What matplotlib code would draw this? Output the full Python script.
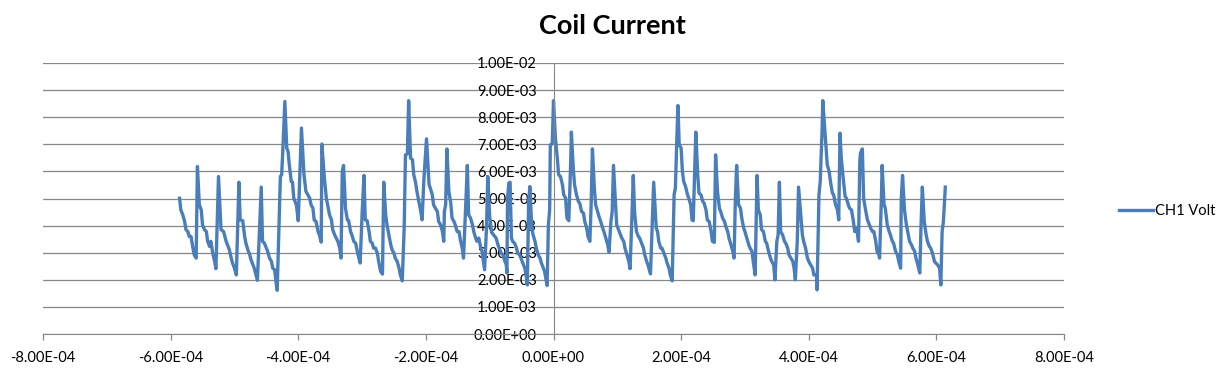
#!/usr/bin/env python3
"""
Coil Current - Excel style line chart of CH1 Volt vs time
"""

import matplotlib
matplotlib.use('Agg')
import matplotlib.pyplot as plt
from matplotlib.ticker import FuncFormatter

plt.rcParams['font.family'] = ['Lato', 'DejaVu Sans']

# time in units of 1e-4 s
t_e4 = [
    -5.86, -5.84, -5.81, -5.78, -5.76, -5.73, -5.71, -5.68, -5.65, -5.63, -5.60,
    -5.58, -5.55, -5.52, -5.50, -5.47, -5.44, -5.42, -5.39, -5.37, -5.34, -5.31, -5.29,
    -5.25, -5.21, -5.17, -5.13, -5.10, -5.08, -5.05, -5.03, -5.00, -4.97,
    -4.93, -4.91, -4.87, -4.84, -4.82, -4.79, -4.76, -4.74, -4.71, -4.69, -4.64,
    -4.58, -4.56, -4.53, -4.50, -4.48, -4.45, -4.42, -4.40, -4.37, -4.35, -4.33,
    -4.28, -4.26, -4.24, -4.21, -4.18, -4.16, -4.14, -4.11, -4.09, -4.07, -4.03, -4.00,
    -3.95, -3.91, -3.88, -3.85, -3.82, -3.80, -3.77, -3.75, -3.72, -3.69, -3.67, -3.64,
    -3.63, -3.59, -3.56, -3.54, -3.51, -3.48, -3.46, -3.43, -3.38, -3.35, -3.33,
    -3.31, -3.29, -3.26, -3.23, -3.21, -3.18, -3.16, -3.13, -3.10, -3.08, -3.05, -3.03,
    -3.00, -2.97, -2.95, -2.92, -2.89, -2.87, -2.84, -2.82, -2.79, -2.76, -2.74, -2.71, -2.68,
    -2.66, -2.63, -2.61, -2.58, -2.55, -2.53, -2.50, -2.48, -2.45, -2.42, -2.40, -2.37,
    -2.34, -2.32, -2.29, -2.27, -2.24, -2.21, -2.19, -2.16, -2.14, -2.11, -2.08, -2.06,
    -2.03, -1.99, -1.95, -1.93, -1.90, -1.88, -1.85, -1.82, -1.80, -1.77, -1.74, -1.72,
    -1.71, -1.69, -1.67, -1.64, -1.61, -1.59, -1.56, -1.54, -1.51, -1.48, -1.46, -1.43, -1.41,
    -1.35, -1.33, -1.30, -1.27, -1.25, -1.22, -1.20, -1.17, -1.14, -1.12, -1.08,
    -1.05, -1.03, -1.00, -0.97, -0.92, -0.90, -0.87, -0.85, -0.82, -0.79, -0.77, -0.74, -0.73,
    -0.72, -0.70, -0.68, -0.66, -0.64, -0.61, -0.58, -0.56, -0.53, -0.51, -0.48, -0.45, -0.43, -0.41,
    -0.39, -0.37, -0.34, -0.32, -0.29, -0.27, -0.24, -0.21, -0.19, -0.16, -0.14, -0.10,
    -0.08, -0.06, -0.05, -0.02, 0.00, 0.03, 0.06, 0.08, 0.11, 0.14, 0.16, 0.19, 0.21, 0.24,
    0.27, 0.28, 0.31, 0.33, 0.36, 0.39, 0.41, 0.44, 0.47, 0.49, 0.52, 0.54, 0.57,
    0.59, 0.61, 0.64, 0.66, 0.69, 0.72, 0.74, 0.77, 0.79, 0.82, 0.85, 0.87,
    0.90, 0.92, 0.94, 0.97, 0.99, 1.02, 1.05, 1.07, 1.10, 1.12, 1.15, 1.18, 1.20,
    1.23, 1.25, 1.27, 1.30, 1.33, 1.35, 1.38, 1.41, 1.43, 1.46, 1.48, 1.52,
    1.57, 1.61, 1.63, 1.65, 1.68, 1.70, 1.73, 1.76, 1.78, 1.81, 1.83, 1.86,
    1.89, 1.91, 1.93, 1.95, 1.97, 2.00, 2.02, 2.04, 2.07, 2.10, 2.12, 2.15, 2.17, 2.19,
    2.21, 2.23, 2.26, 2.28, 2.31, 2.34, 2.36, 2.39, 2.41, 2.44, 2.47, 2.49, 2.52,
    2.53, 2.54, 2.57, 2.60, 2.62, 2.65, 2.68, 2.70, 2.73, 2.75, 2.78, 2.81, 2.83,
    2.85, 2.87, 2.90, 2.93, 2.95, 2.98, 3.00, 3.03, 3.06, 3.08, 3.11, 3.13, 3.16,
    3.19, 3.21, 3.24, 3.26, 3.29, 3.32, 3.34, 3.37, 3.40, 3.42, 3.45, 3.47,
    3.50, 3.52, 3.54, 3.56, 3.59, 3.62, 3.64, 3.67, 3.69, 3.72, 3.75, 3.77, 3.79,
    3.82, 3.84, 3.87, 3.90, 3.92, 3.95, 3.98, 4.00, 4.03, 4.06, 4.08, 4.12, 4.13,
    4.16, 4.18, 4.21, 4.22, 4.25, 4.27, 4.29, 4.32, 4.34, 4.37, 4.39, 4.42, 4.45, 4.47,
    4.49, 4.51, 4.54, 4.57, 4.59, 4.62, 4.64, 4.67, 4.70, 4.72, 4.75, 4.78,
    4.80, 4.81, 4.84, 4.86, 4.89, 4.92, 4.94, 4.97, 5.00, 5.02, 5.05, 5.07, 5.10, 5.11,
    5.14, 5.15, 5.18, 5.20, 5.23, 5.26, 5.28, 5.31, 5.33, 5.36, 5.39, 5.41, 5.44,
    5.45, 5.47, 5.50, 5.53, 5.55, 5.58, 5.61, 5.63, 5.66, 5.68, 5.71, 5.74,
    5.76, 5.78, 5.81, 5.84, 5.86, 5.89, 5.91, 5.94, 5.97, 5.99, 6.02, 6.05, 6.07,
    6.09, 6.11, 6.14,
]

# CH1 Volt in units of 1e-3
volt_e3 = [
    5.01, 4.58, 4.40, 4.15, 3.85, 3.78, 3.60, 3.60, 3.17, 2.92, 2.80,
    6.18, 4.77, 4.58, 4.03, 3.85, 3.78, 3.42, 3.23, 3.42, 2.98, 2.68, 2.41,
    5.81, 3.85, 3.78, 3.42, 3.23, 3.11, 2.80, 2.62, 2.43, 2.18,
    5.60, 4.21, 4.18, 3.60, 3.35, 3.11, 2.92, 2.74, 2.55, 2.43, 1.98,
    5.42, 3.42, 3.35, 3.17, 3.05, 2.80, 2.68, 2.43, 2.37, 1.94, 1.61,
    5.81, 5.88, 6.86, 8.58, 6.86, 6.74, 6.24, 5.63, 5.60, 5.01, 4.77, 4.18,
    7.60, 5.88, 5.26, 5.14, 5.01, 4.77, 4.64, 4.21, 4.15, 3.78, 3.66, 3.39,
    7.01, 5.75, 5.01, 4.77, 4.40, 4.21, 3.85, 3.66, 3.42, 3.17, 2.80,
    6.00, 6.22, 4.64, 4.21, 4.18, 3.78, 3.66, 3.42, 3.35, 3.11, 2.80, 2.62,
    4.40, 5.85, 4.21, 4.18, 3.78, 3.42, 3.35, 3.17, 3.17, 2.98, 2.68, 2.31, 2.21,
    5.60, 4.40, 4.03, 3.66, 3.29, 3.11, 2.98, 2.80, 2.68, 2.43, 2.18, 1.96,
    3.91, 6.61, 6.64, 8.61, 6.49, 6.43, 5.88, 5.57, 5.26, 4.89, 4.52, 4.21,
    5.75, 7.20, 5.51, 5.38, 5.14, 4.77, 4.64, 4.52, 4.15, 4.03, 3.78, 3.42,
    4.52, 4.77, 6.83, 5.26, 4.83, 4.28, 4.15, 4.03, 3.78, 3.78, 3.48, 3.17, 2.80,
    6.22, 4.40, 4.28, 4.03, 3.78, 3.54, 3.42, 3.54, 3.17, 3.05, 2.37,
    3.91, 5.81, 4.34, 3.75, 3.60, 3.54, 3.29, 3.17, 2.98, 2.92, 2.74, 2.55, 2.25,
    5.01, 5.57, 5.60, 3.54, 3.42, 3.35, 3.17, 2.98, 2.92, 2.80, 2.62, 2.43, 2.18, 1.81,
    4.89, 5.44, 3.91, 3.66, 3.42, 3.17, 2.92, 2.80, 2.62, 2.43, 2.31, 1.79,
    4.03, 4.58, 6.98, 7.01, 8.61, 7.23, 6.49, 5.88, 5.81, 5.51, 5.14, 5.01, 4.28, 4.18,
    6.37, 7.45, 6.12, 5.51, 5.14, 4.89, 4.83, 4.52, 4.46, 4.15, 3.91, 3.60, 3.42,
    4.77, 6.83, 5.38, 4.77, 4.52, 4.28, 4.15, 3.91, 3.78, 3.54, 3.29, 3.02,
    4.15, 4.52, 6.22, 4.89, 4.03, 3.85, 3.66, 3.54, 3.42, 3.17, 2.92, 2.68, 2.41,
    4.40, 5.85, 4.52, 3.78, 3.60, 3.54, 3.35, 3.17, 2.92, 2.68, 2.55, 2.22,
    5.60, 3.91, 3.78, 3.42, 3.17, 3.17, 2.98, 2.80, 2.62, 2.43, 2.18, 1.96,
    5.14, 5.38, 6.98, 8.43, 6.98, 6.86, 6.00, 5.63, 5.44, 5.14, 5.01, 4.77, 4.21, 4.18,
    5.88, 7.45, 5.88, 5.20, 5.14, 4.89, 4.83, 4.58, 4.21, 4.15, 3.78, 3.42, 3.38,
    5.14, 6.61, 5.26, 4.64, 4.52, 4.28, 4.15, 3.97, 3.78, 3.54, 3.29, 3.05, 2.80,
    5.01, 6.22, 4.77, 4.64, 4.28, 3.91, 3.78, 3.54, 3.29, 3.17, 3.05, 2.68, 2.18,
    5.85, 4.58, 4.40, 3.85, 3.78, 3.42, 3.35, 3.05, 2.80, 2.68, 2.55, 2.00,
    3.42, 3.66, 5.60, 3.78, 3.66, 3.42, 3.35, 3.17, 2.92, 2.80, 2.68, 2.43, 2.00,
    3.42, 5.42, 4.52, 3.66, 3.42, 3.17, 2.80, 2.68, 2.55, 2.43, 2.18, 2.18, 1.63,
    5.14, 5.63, 7.60, 8.61, 7.60, 6.98, 6.24, 6.00, 5.63, 5.20, 5.14, 4.77, 4.58, 4.21,
    7.41, 6.49, 5.75, 5.08, 5.01, 4.77, 4.64, 4.58, 4.15, 3.78, 3.91, 3.42,
    6.37, 6.67, 6.83, 5.01, 4.58, 4.21, 4.09, 3.91, 3.78, 3.78, 3.42, 3.05, 2.92, 2.80,
    5.14, 6.22, 4.77, 4.64, 4.03, 3.78, 3.66, 3.42, 3.35, 3.05, 2.92, 2.68, 2.43,
    5.01, 5.85, 4.58, 4.03, 3.78, 3.42, 3.29, 3.17, 3.05, 2.80, 2.55, 2.25,
    4.03, 5.42, 4.15, 3.66, 3.42, 3.23, 3.17, 2.98, 2.68, 2.62, 2.55, 2.43, 1.81,
    3.78, 4.15, 5.42,
]

x_ticks_e4 = [-8, -6, -4, -2, 0, 2, 4, 6, 8]
y_ticks_e3 = [0, 1, 2, 3, 4, 5, 6, 7, 8, 9, 10]

LINE_COLOR = '#4A7EBB'
GRID_COLOR = '#878787'


def sci_fmt(val, pos):
    return f'{val:.2E}'


def plot_coil_current():
    time = [v * 1e-4 for v in t_e4]
    volt = [v * 1e-3 for v in volt_e3]

    fig = plt.figure(figsize=(12.27, 3.72), dpi=100)
    ax = fig.add_axes([43 / 1227, 1 - 334 / 372, 1021 / 1227, 271 / 372])

    ax.plot(time, volt, color=LINE_COLOR, linewidth=2.4, label='CH1 Volt',
            solid_joinstyle='round')

    ax.set_xlim(-8e-4, 8e-4)
    ax.set_ylim(0, 1e-2)
    ax.set_xticks([v * 1e-4 for v in x_ticks_e4])
    ax.set_yticks([v * 1e-3 for v in y_ticks_e3])
    ax.xaxis.set_major_formatter(FuncFormatter(sci_fmt))
    ax.yaxis.set_major_formatter(FuncFormatter(sci_fmt))

    # Excel look: y axis sits at x = 0, only horizontal gridlines
    ax.spines['left'].set_position(('data', 0))
    ax.spines['left'].set_color(GRID_COLOR)
    ax.spines['bottom'].set_color(GRID_COLOR)
    ax.spines['top'].set_visible(False)
    ax.spines['right'].set_visible(False)
    ax.grid(True, axis='y', color=GRID_COLOR, linewidth=0.9)
    ax.set_axisbelow(True)

    ax.tick_params(axis='x', direction='out', length=4, width=0.9,
                   color=GRID_COLOR, labelsize=10.5, pad=8)
    ax.tick_params(axis='y', length=0, labelsize=10.5, pad=12)

    fig.text(612 / 1227, 1 - 26 / 372, 'Coil Current', ha='center', va='center',
             fontsize=19.5, fontweight='bold')

    fig.legend(loc='center left', bbox_to_anchor=(1119 / 1227, 1 - 211 / 372),
               frameon=False, fontsize=10.5, handlelength=2.3, handletextpad=0.2,
               borderpad=0, borderaxespad=0)

    fig.savefig('out.png', dpi=100)


if __name__ == '__main__':
    plot_coil_current()
